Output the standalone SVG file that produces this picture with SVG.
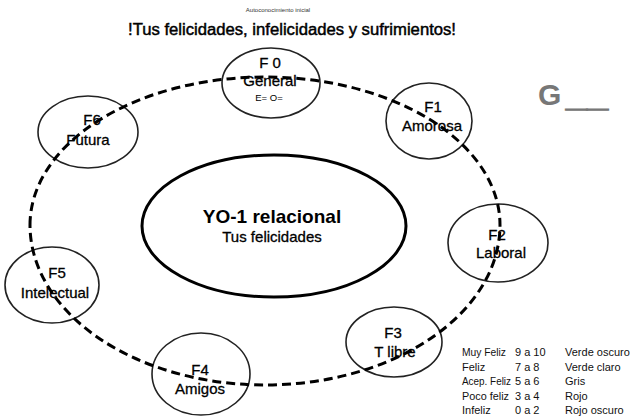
<svg xmlns="http://www.w3.org/2000/svg" width="632" height="418" viewBox="0 0 632 418">
<style>
text{font-family:"Liberation Sans",Arial,sans-serif;fill:#000}
.node{fill:none;stroke:#222;stroke-width:1.6}
.lbl{font-size:15px;text-anchor:middle;stroke:#000;stroke-width:0.3}
.leg{font-size:11px;fill:#111}
.grade{font-size:30px;font-weight:bold;fill:#777}
</style>
<rect width="632" height="418" fill="#fff"/>
<text x="278" y="12" font-size="6" text-anchor="middle" style="fill:#333">Autoconocimiento  inicial</text>
<text x="292" y="35" font-size="16" text-anchor="middle" textLength="328" lengthAdjust="spacingAndGlyphs" stroke="#000" stroke-width="0.45">!Tus felicidades, infelicidades y sufrimientos!</text>
<g id="center">
<ellipse cx="274" cy="226" rx="132" ry="71" fill="none" stroke="#000" stroke-width="3"/>
<text x="272" y="223" font-size="19" font-weight="bold" text-anchor="middle">YO-1 relacional</text>
<text x="272" y="242" class="lbl">Tus felicidades</text>
</g>
<g id="F0">
<ellipse class="node" cx="271" cy="83" rx="49" ry="35"/>
<text x="270" y="68" class="lbl">F 0</text>
<text x="270" y="86" class="lbl">General</text>
<text x="269" y="101" font-size="9.5" text-anchor="middle">E=  O=</text>
</g>
<g id="F1">
<ellipse class="node" cx="429" cy="121" rx="43" ry="38"/>
<text x="433" y="112" class="lbl">F1</text>
<text x="432" y="131" class="lbl">Amorosa</text>
</g>
<g id="F2">
<ellipse class="node" cx="498" cy="243" rx="50" ry="39"/>
<text x="497" y="240" class="lbl">F2</text>
<text x="501" y="258" class="lbl">Laboral</text>
</g>
<g id="F3">
<ellipse class="node" cx="394" cy="342" rx="48" ry="35"/>
<text x="393" y="338" class="lbl">F3</text>
<text x="395" y="357" class="lbl">T libre</text>
</g>
<g id="F4">
<ellipse class="node" cx="201" cy="374" rx="49" ry="41"/>
<text x="200" y="375" class="lbl">F4</text>
<text x="200" y="394" class="lbl">Amigos</text>
</g>
<g id="F5">
<ellipse class="node" cx="52" cy="285" rx="47" ry="38"/>
<text x="57" y="278" class="lbl">F5</text>
<text x="55" y="298" class="lbl">Intelectual</text>
</g>
<g id="F6">
<ellipse class="node" cx="88" cy="132" rx="50" ry="36"/>
<text x="92" y="125" class="lbl">F6</text>
<text x="88" y="145" class="lbl">Futura</text>
</g>
<g id="connectors">
<path d="M30 225 A235 148 0 0 1 500 225 A235 160 0 0 1 30 225 Z" fill="none" stroke="#000" stroke-width="3" stroke-dasharray="9 5"/>
</g>
<g id="grade">
<text class="grade" x="538" y="105">G</text>
<text class="grade" x="566" y="107" textLength="42" lengthAdjust="spacingAndGlyphs" style="stroke:#777;stroke-width:1.2">__</text>
</g>
<g id="legend">
<text class="leg" x="462" y="356" textLength="44" lengthAdjust="spacingAndGlyphs">Muy Feliz</text><text class="leg" x="515" y="356">9 a 10</text><text class="leg" x="565" y="356">Verde oscuro</text>
<text class="leg" x="462" y="370.5">Feliz</text><text class="leg" x="515" y="370.5">7 a 8</text><text class="leg" x="565" y="370.5">Verde claro</text>
<text class="leg" x="462" y="385" textLength="49" lengthAdjust="spacingAndGlyphs">Acep. Feliz</text><text class="leg" x="515" y="385">5 a 6</text><text class="leg" x="565" y="385">Gris</text>
<text class="leg" x="462" y="399.5" textLength="47" lengthAdjust="spacingAndGlyphs">Poco feliz</text><text class="leg" x="515" y="399.5">3 a 4</text><text class="leg" x="565" y="399.5">Rojo</text>
<text class="leg" x="462" y="414">Infeliz</text><text class="leg" x="515" y="414">0 a 2</text><text class="leg" x="565" y="414">Rojo oscuro</text>
</g>
</svg>
